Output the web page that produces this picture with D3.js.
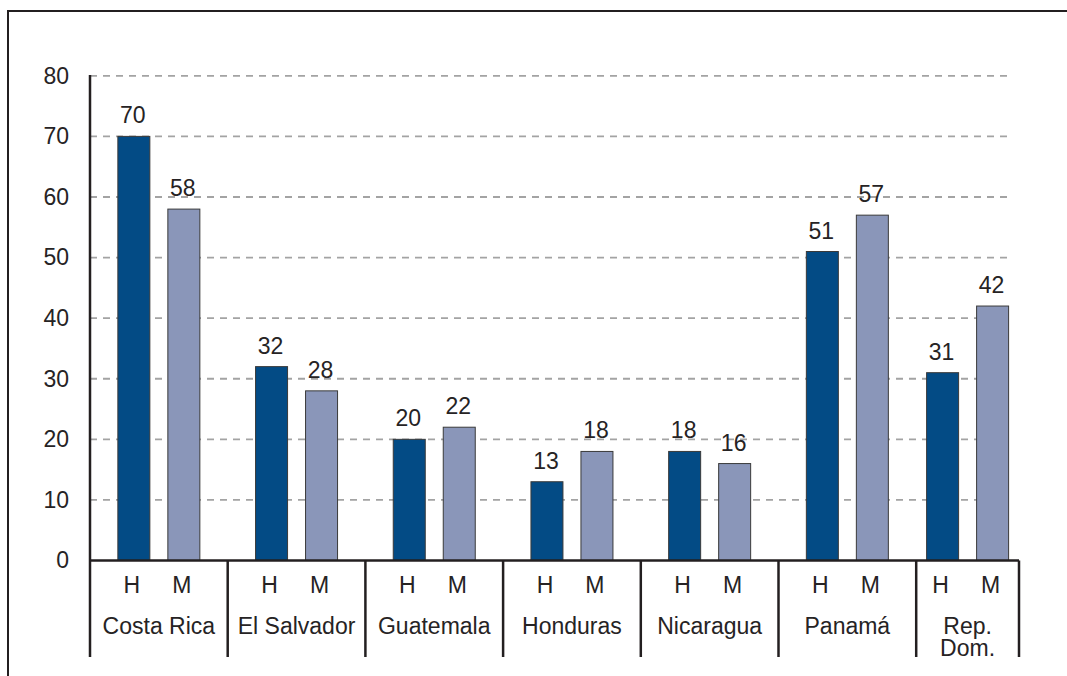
<!DOCTYPE html>
<html>
<head>
<meta charset="utf-8">
<script src="https://cdn.jsdelivr.net/npm/d3@7"></script>
<style>
	body { margin: 0; background: #fff; }
	text { font-family: "Liberation Sans", Arial, sans-serif; fill: #262324; }
</style>
</head>
<body>
<svg id="chart" width="1067" height="676"></svg>
<script>
// data
const countries = ['Costa Rica', 'El Salvador', 'Guatemala', 'Honduras', 'Nicaragua', 'Panamá', 'Rep.\nDom.'];
const sexes = ['H', 'M'];
const hombres = [70, 32, 20, 13, 18, 51, 31];
const mujeres = [58, 28, 22, 18, 16, 57, 42];
const yTicks = [0, 10, 20, 30, 40, 50, 60, 70, 80];

const colors = {H: '#034b85', M: '#8a96b9'};
const ink = '#231f20';
const fontSize = '23px';

const plotLeft = 90, plotRight = 1019, groupStep = 137.7;
const axisBottom = 657;

let svg = d3.select('#chart');

// outer frame (only top and left visible)
svg.append('path')
	.attr('d', 'M8,676 L8,11 L1067,11')
	.style('fill', 'none')
	.style('stroke', ink)
	.style('stroke-width', 2);

const y = d3.scaleLinear().domain([0, 80]).range([560.5, 75.8]);

// groups, last one is cut by the end of the axis
const x0 = d3.scaleBand()
	.domain(countries)
	.range([plotLeft, plotLeft + countries.length * groupStep]);
const x1 = d3.scaleBand().domain(sexes).range([0, 82]).paddingInner(0.36);

function groupEnds(c) {
	let a = x0(c);
	let b = Math.min(a + x0.bandwidth(), plotRight);
	return [a, b];
}
function groupCenter(c) {
	let e = groupEnds(c);
	return (e[0] + e[1]) / 2;
}

// gridlines
svg.append('g').selectAll('line')
	.data(yTicks.filter(d => d > 0))
	.enter()
	.append('line')
	.attr('x1', plotLeft)
	.attr('x2', 1008)
	.attr('y1', d => y(d))
	.attr('y2', d => y(d))
	.style('stroke', '#a3a3a3')
	.style('stroke-width', 1.8)
	.style('stroke-dasharray', '7,6');

// y axis labels
let yAxis = svg.append('g')
	.attr('transform', 'translate(' + plotLeft + ',0)')
	.call(d3.axisLeft(y).tickValues(yTicks).tickSize(0).tickPadding(21));
yAxis.select('.domain').remove();
yAxis.selectAll('text')
	.style('font-size', fontSize)
	.style('font-family', '"Liberation Sans", Arial, sans-serif')
	.attr('fill', '#262324');

// bars
let rows = [];
countries.forEach((c, i) => {
	rows.push({country: c, sex: 'H', value: hombres[i]});
	rows.push({country: c, sex: 'M', value: mujeres[i]});
});
const barX = d => groupCenter(d.country) - 41 + x1(d.sex);

svg.append('g').selectAll('rect')
	.data(rows)
	.enter()
	.append('rect')
	.attr('x', barX)
	.attr('y', d => y(d.value))
	.attr('width', x1.bandwidth())
	.attr('height', d => y(0) - y(d.value))
	.style('fill', d => colors[d.sex])
	.style('stroke', '#3a3a3a')
	.style('stroke-width', 1);

// value labels
svg.append('g').selectAll('text')
	.data(rows)
	.enter()
	.append('text')
	.attr('x', d => barX(d) + x1.bandwidth() / 2 - 1)
	.attr('y', d => y(d.value) - 13)
	.attr('text-anchor', 'middle')
	.style('font-size', fontSize)
	.text(d => d.value);

// H / M labels
svg.append('g').selectAll('text')
	.data(rows)
	.enter()
	.append('text')
	.attr('x', d => barX(d) + x1.bandwidth() / 2 - 2)
	.attr('y', 593)
	.attr('text-anchor', 'middle')
	.style('font-size', fontSize)
	.text(d => d.sex);

// country labels
let cl = svg.append('g').selectAll('text')
	.data(countries)
	.enter()
	.append('text')
	.attr('x', c => groupCenter(c))
	.attr('y', 634)
	.attr('text-anchor', 'middle')
	.style('font-size', fontSize);
cl.selectAll('tspan')
	.data(c => c.split('\n').map(t => ({t: t, c: c})))
	.enter()
	.append('tspan')
	.attr('x', d => groupCenter(d.c))
	.attr('dy', (d, i) => i ? 22 : 0)
	.text(d => d.t);

// axis lines
svg.append('line')
	.attr('x1', plotLeft).attr('x2', plotLeft)
	.attr('y1', 75).attr('y2', axisBottom)
	.style('stroke', ink).style('stroke-width', 2.5);
svg.append('line')
	.attr('x1', plotLeft).attr('x2', plotRight)
	.attr('y1', y(0)).attr('y2', y(0))
	.style('stroke', ink).style('stroke-width', 2.5);

// group separators
let seps = countries.slice(1).map(c => groupEnds(c)[0]);
seps.push(plotRight);
svg.append('g').selectAll('line')
	.data(seps)
	.enter()
	.append('line')
	.attr('x1', d => d).attr('x2', d => d)
	.attr('y1', y(0)).attr('y2', axisBottom)
	.style('stroke', ink)
	.style('stroke-width', 2.5);
</script>
</body>
</html>
